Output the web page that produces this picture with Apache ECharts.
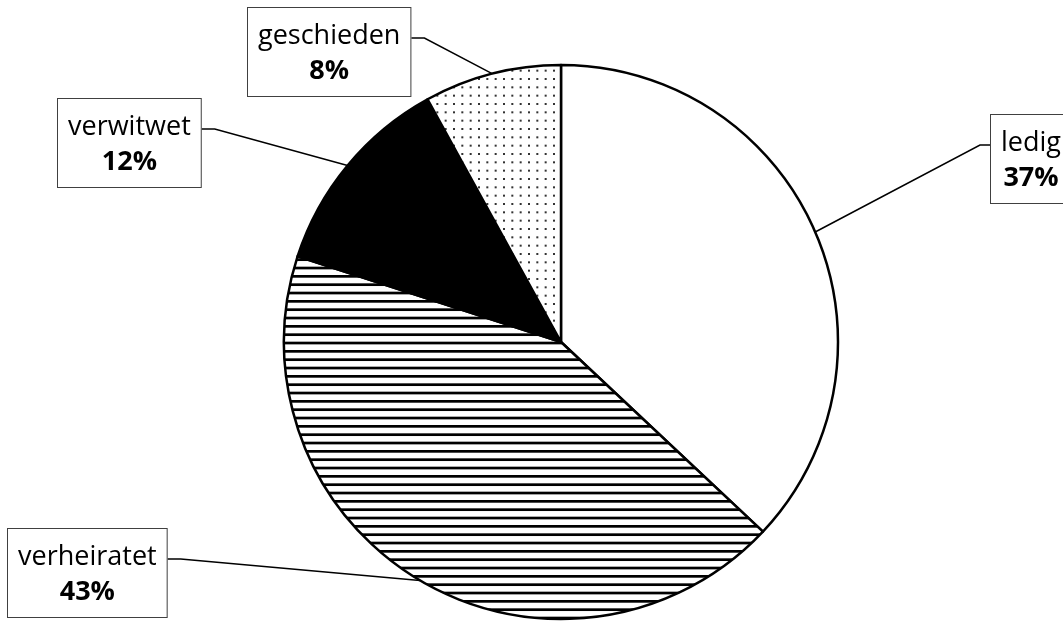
<!DOCTYPE html>
<html>
<head>
<meta charset="utf-8">
<script src="https://cdn.jsdelivr.net/npm/echarts@6/dist/echarts.min.js"></script>
<style>
  html, body { margin: 0; padding: 0; background: #fff; }
  #chart { width: 1063px; height: 621px; }
</style>
</head>
<body>
<div id="chart"></div>
<script>
// Familienstand
const categories = ["ledig", "verheiratet", "verwitwet", "geschieden"];
const shares = [37, 43, 12, 8];

// label boxes: top-left corner, and which side the leader line attaches
const labelBoxes = {
  ledig: { x: 990, y: 115, side: "left" },
  verheiratet: { x: 7, y: 529, side: "right" },
  verwitwet: { x: 57, y: 99, side: "right" },
  geschieden: { x: 247, y: 8, side: "right" },
};

// fill patterns
function stripes() {
  const c = document.createElement("canvas");
  c.width = 10;
  c.height = 25;
  const ctx = c.getContext("2d");
  ctx.fillStyle = "#fff";
  ctx.fillRect(0, 0, 10, 25);
  ctx.fillStyle = "#000";
  [0, 8.33, 16.67].forEach((y) => ctx.fillRect(0, y, 10, 2.7));
  return c;
}
function dots() {
  const c = document.createElement("canvas");
  c.width = 25;
  c.height = 25;
  const ctx = c.getContext("2d");
  ctx.fillStyle = "#fff";
  ctx.fillRect(0, 0, 25, 25);
  ctx.fillStyle = "#333";
  for (let i = 0; i < 3; i++) {
    for (let j = 0; j < 3; j++) {
      ctx.fillRect(i * 8.33 + 3, j * 8.33 + 3, 2, 2);
    }
  }
  return c;
}

const fills = [
  "#ffffff",
  { image: stripes(), repeat: "repeat" },
  "#000000",
  { image: dots(), repeat: "repeat" },
];

const chart = echarts.init(document.getElementById("chart"));

const option = {
  backgroundColor: "#fff",
  animation: false,
  series: [
    {
      type: "pie",
      center: [561, 342],
      radius: 277,
      startAngle: 90,
      clockwise: true,
      avoidLabelOverlap: false,
      data: categories.map((name, i) => ({
        name: name,
        value: shares[i],
        itemStyle: { color: fills[i] },
      })),
      itemStyle: {
        borderColor: "#000",
        borderWidth: 2.5,
      },
      emphasis: { disabled: true },
      label: {
        show: true,
        position: "outside",
        formatter: "{n|{b}}\n{p|{d}%}",
        backgroundColor: "#fff",
        borderColor: "#404040",
        borderWidth: 1,
        padding: [11, 10, 7, 10],
        align: "center",
        rich: {
          n: {
            fontFamily: "Open Sans",
            fontSize: 27,
            color: "#000",
            lineHeight: 35,
            align: "center",
          },
          p: {
            fontFamily: "Open Sans",
            fontSize: 27,
            fontWeight: "bold",
            color: "#000",
            lineHeight: 35,
            align: "center",
          },
        },
      },
      labelLine: {
        show: true,
        length: 30,
        length2: 10,
        lineStyle: { color: "#000", width: 1.5 },
      },
      labelLayout: function (params) {
        const name = categories[params.dataIndex];
        const box = labelBoxes[name];
        const r = params.labelRect;
        const start = params.labelLinePoints[0];
        const lineY = box.y + 30;
        let end, knee;
        if (box.side === "right") {
          end = [box.x + r.width, lineY];
          knee = [end[0] + 13, lineY];
        } else {
          end = [box.x, lineY];
          knee = [end[0] - 10, lineY];
        }
        return {
          x: box.x + r.width / 2,
          y: box.y,
          align: "center",
          verticalAlign: "top",
          labelLinePoints: [start, knee, end],
        };
      },
    },
  ],
};

chart.setOption(option);
</script>
</body>
</html>
